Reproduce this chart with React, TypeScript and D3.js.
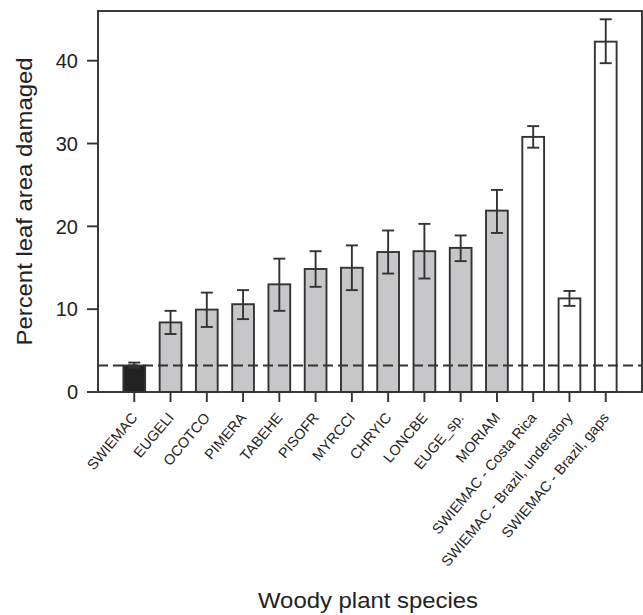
import React from "react";
import * as d3 from "d3";

const categories = [
  "SWIEMAC", "EUGELI", "OCOTCO", "PIMERA", "TABEHE", "PISOFR", "MYRCCI",
  "CHRYIC", "LONCBE", "EUGE_sp.", "MORIAM",
  "SWIEMAC - Costa Rica", "SWIEMAC - Brazil, understory", "SWIEMAC - Brazil, gaps",
];
const means = [3.2, 8.4, 9.95, 10.6, 13.0, 14.85, 15.0, 16.9, 17.0, 17.4, 21.9, 30.8, 11.3, 42.3];
const errLow = [2.95, 7.0, 7.85, 8.8, 9.8, 12.7, 12.3, 14.3, 13.7, 15.8, 19.2, 29.5, 10.4, 39.7];
const errHigh = [3.55, 9.8, 12.0, 12.3, 16.1, 17.0, 17.7, 19.5, 20.3, 18.9, 24.4, 32.1, 12.2, 45.0];
const groups = ["focal", "other", "other", "other", "other", "other", "other", "other", "other", "other", "other", "literature", "literature", "literature"];
const yTicks = [0, 10, 20, 30, 40];
const referenceLine = 3.2;

const fills: Record<string, string> = { focal: "#222222", other: "#c7c7c9", literature: "#ffffff" };

const W = 643, H = 615;
const left = 98, right = 642, top = 11, bottom = 392;
const ink = "#333333";
const sw = 1.9;
const font = "'Liberation Sans', Arial, sans-serif";

export default function App() {
  const x = d3.scalePoint<string>().domain(categories).range([left, right]).padding(1);
  const y = d3.scaleLinear().domain([0, 46]).range([bottom, top]);
  const bw = x.step() * 0.6;
  const cap = 12;
  return (
    <svg width={W} height={H} style={{ position: "absolute", left: 0, top: 0, background: "#fff" }}>
      {categories.map((c, i) => {
        const cx = x(c)!;
        return (
          <rect key={c} x={cx - bw / 2} y={y(means[i])} width={bw} height={y(0) - y(means[i])}
            fill={fills[groups[i]]} stroke={ink} strokeWidth={sw} />
        );
      })}
      <line x1={left} x2={right} y1={y(referenceLine)} y2={y(referenceLine)} stroke={ink} strokeWidth={sw} strokeDasharray="10,5" />
      {categories.map((c, i) => {
        const cx = x(c)!;
        return (
          <g key={c + "e"} stroke={ink} strokeWidth={sw}>
            <line x1={cx} x2={cx} y1={y(errLow[i])} y2={y(errHigh[i])} />
            <line x1={cx - cap / 2} x2={cx + cap / 2} y1={y(errLow[i])} y2={y(errLow[i])} />
            <line x1={cx - cap / 2} x2={cx + cap / 2} y1={y(errHigh[i])} y2={y(errHigh[i])} />
          </g>
        );
      })}
      <rect x={left} y={top} width={right - left} height={bottom - top} fill="none" stroke={ink} strokeWidth={sw} />
      {yTicks.map((t) => (
        <g key={t}>
          <line x1={left - 11} x2={left} y1={y(t)} y2={y(t)} stroke={ink} strokeWidth={sw} />
          <text x={left - 20} y={y(t)} dy="0.36em" textAnchor="end" fontFamily={font} fontSize={20} fill="#222">{t}</text>
        </g>
      ))}
      {categories.map((c) => {
        const cx = x(c)!;
        return (
          <g key={c + "t"}>
            <line x1={cx} x2={cx} y1={bottom} y2={bottom + 10} stroke={ink} strokeWidth={sw} />
            <text transform={`translate(${cx + 4},${bottom + 26}) rotate(-50)`} textAnchor="end"
              fontFamily={font} fontSize={14.5} fill="#222">{c}</text>
          </g>
        );
      })}
      <text transform={`translate(32,${(top + bottom) / 2}) rotate(-90)`} textAnchor="middle"
        fontFamily={font} fontSize={22} fill="#222" textLength={288} lengthAdjust="spacingAndGlyphs">Percent leaf area damaged</text>
      <text x={368} y={608} textAnchor="middle" fontFamily={font} fontSize={21.5} fill="#222"
        textLength={220} lengthAdjust="spacingAndGlyphs">Woody plant species</text>
    </svg>
  );
}
